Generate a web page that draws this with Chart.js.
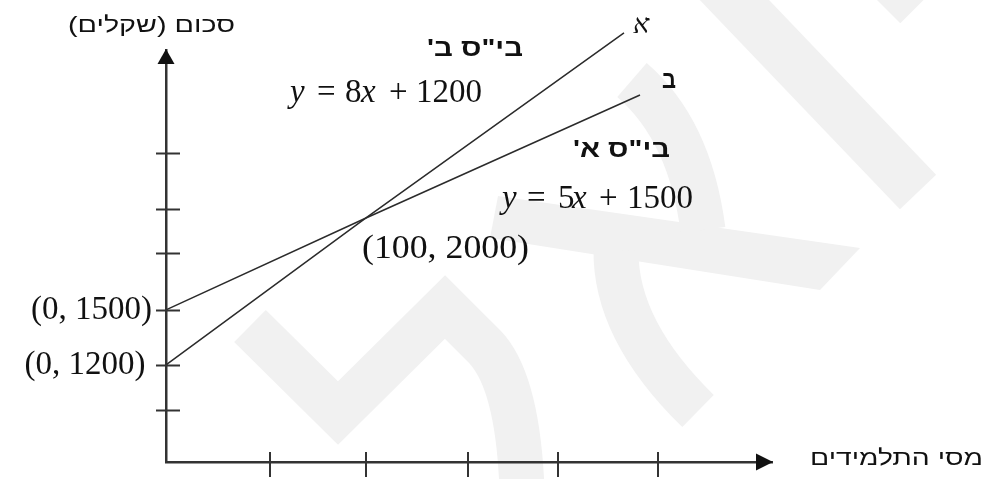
<!DOCTYPE html>
<html lang="he">
<head>
<meta charset="utf-8">
<script src="https://cdn.jsdelivr.net/npm/chart.js@4/dist/chart.umd.min.js"></script>
<style>
  html, body { margin: 0; padding: 0; background: #ffffff; }
  #wrap { position: relative; width: 995px; height: 479px; }
</style>
</head>
<body>
<div id="wrap"><canvas id="chart"></canvas></div>
<script>
// school A: y = 8x + 1200, school B: y = 5x + 1500
const schoolAX = [0, 100, 229];
const schoolAY = [1200, 2000, 3007];
const schoolBX = [0, 100, 237];
const schoolBY = [1500, 2000, 2669];

const xTickValues = [52, 100, 151, 196, 246];
const yTickValues = [955, 1200, 1500, 1810, 2050, 2355];
const yLabelValues = [1200, 1500];
const yLabelTexts = ["(0, 1200)\u2009", "(0, 1500)"];

const lineColour = "#2b2b2b";
const axisColour = "#333333";
const textColour = "#111111";
const watermarkColour = "#f1f1f1";
const serif = "'Liberation Serif', 'Times New Roman', serif";
const sans = "'Liberation Sans', 'DejaVu Sans', Arial, sans-serif";

const toPoints = (xs, ys) => xs.map((x, i) => ({ x: x, y: ys[i] }));

// faint logo in the background
const watermark = {
  id: "watermark",
  beforeDraw: (chart) => {
    const ctx = chart.ctx;
    ctx.save();
    ctx.fillStyle = "#ffffff";
    ctx.fillRect(0, 0, chart.width, chart.height);
    ctx.strokeStyle = watermarkColour;
    ctx.fillStyle = watermarkColour;
    ctx.lineCap = "butt";
    ctx.lineJoin = "miter";

    ctx.lineWidth = 45;
    ctx.beginPath();
    ctx.moveTo(250, 326);
    ctx.lineTo(338, 413);
    ctx.lineTo(445, 307);
    ctx.lineTo(485, 347);
    ctx.quadraticCurveTo(518, 382, 522, 490);
    ctx.stroke();

    ctx.lineWidth = 50;
    ctx.beginPath();
    ctx.moveTo(700, -36);
    ctx.lineTo(918, 192);
    ctx.stroke();

    ctx.lineWidth = 46;
    ctx.beginPath();
    ctx.moveTo(884, 7);
    ctx.lineTo(940, -49);
    ctx.stroke();

    ctx.beginPath();
    ctx.moveTo(498, 196);
    ctx.lineTo(860, 248);
    ctx.lineTo(820, 290);
    ctx.lineTo(490, 238);
    ctx.closePath();
    ctx.fill();

    ctx.lineWidth = 45;
    ctx.beginPath();
    ctx.moveTo(632, 80);
    ctx.quadraticCurveTo(690, 130, 703, 230);
    ctx.stroke();

    ctx.beginPath();
    ctx.moveTo(616, 250);
    ctx.quadraticCurveTo(615, 330, 698, 411);
    ctx.stroke();
    ctx.restore();
  },
};

const drawMath = (ctx, parts, left, baseline) => {
  parts.forEach(([text, offset, italic]) => {
    ctx.font = (italic ? "italic " : "") + "33px " + serif;
    ctx.fillText(text, left + offset, baseline);
  });
};

// text squeezed or stretched to the width it has in the picture
const drawFitted = (ctx, text, x, baseline, font, width, rtl) => {
  ctx.save();
  ctx.font = font;
  ctx.direction = rtl ? "rtl" : "ltr";
  ctx.textAlign = rtl ? "right" : "left";
  const natural = ctx.measureText(text).width;
  ctx.translate(x, baseline);
  ctx.scale(width / natural, 1);
  ctx.fillText(text, 0, 0);
  ctx.restore();
};

// cross ticks, arrow heads and all the labels
const decorations = {
  id: "decorations",
  afterDraw: (chart) => {
    const ctx = chart.ctx;
    const xs = chart.scales.x;
    const ys = chart.scales.y;
    const area = chart.chartArea;
    const left = area.left;
    const bottom = area.bottom;

    ctx.save();
    ctx.strokeStyle = axisColour;
    ctx.lineWidth = 2;
    ys.ticks.forEach((t) => {
      const p = Math.round(ys.getPixelForValue(t.value)) + 0.5;
      ctx.beginPath();
      ctx.moveTo(left - 10, p);
      ctx.lineTo(left + 14, p);
      ctx.stroke();
    });
    xs.ticks.forEach((t) => {
      const p = Math.round(xs.getPixelForValue(t.value));
      ctx.beginPath();
      ctx.moveTo(p, bottom - 10);
      ctx.lineTo(p, bottom + 15);
      ctx.stroke();
    });

    ctx.fillStyle = "#111111";
    ctx.beginPath();
    ctx.moveTo(left, area.top - 1);
    ctx.lineTo(left - 8.5, area.top + 14);
    ctx.lineTo(left + 8.5, area.top + 14);
    ctx.closePath();
    ctx.fill();
    ctx.beginPath();
    ctx.moveTo(area.right + 1, bottom);
    ctx.lineTo(area.right - 16, bottom - 8.5);
    ctx.lineTo(area.right - 16, bottom + 8.5);
    ctx.closePath();
    ctx.fill();

    ctx.fillStyle = textColour;
    ctx.textAlign = "left";
    ctx.textBaseline = "alphabetic";

    drawMath(ctx, [["y", 0, true], ["=", 27], ["8", 55], ["x", 71, true], ["+", 99], ["1200", 126]], 290, 102);
    drawMath(ctx, [["y", 0, true], ["=", 25], ["5", 56], ["x", 70, true], ["+", 97], ["1500", 125]], 502, 208);

    const cx = xs.getPixelForValue(100);
    const cy = ys.getPixelForValue(2000);
    drawFitted(ctx, "(100, 2000)", cx - 4, cy + 40, "33px " + serif, 167, false);

    const aEnd = schoolAX.length - 1;
    const bEnd = schoolBX.length - 1;
    ctx.font = "italic 27px " + serif;
    ctx.fillText("א", xs.getPixelForValue(schoolAX[aEnd]) + 9, ys.getPixelForValue(schoolAY[aEnd]));
    drawFitted(ctx, "ב", xs.getPixelForValue(schoolBX[bEnd]) + 36, ys.getPixelForValue(schoolBY[bEnd]) - 7, "bold 25px " + sans, 14, true);

    drawFitted(ctx, "בי\"ס ב'", 523, 56, "bold 24px " + sans, 96, true);
    drawFitted(ctx, "בי\"ס א'", 670, 157, "bold 24px " + sans, 97, true);
    drawFitted(ctx, "סכום (שקלים)", 235, 32, "22px " + sans, 167, true);
    drawFitted(ctx, "מסי התלמידים", 983, 465, "22px " + sans, 173, true);
    ctx.restore();
  },
};

const canvas = document.getElementById("chart");

new Chart(canvas, {
  type: "line",
  data: {
    datasets: [
      {
        label: "בי\"ס ב'",
        data: toPoints(schoolAX, schoolAY),
        borderColor: lineColour,
        borderWidth: 1.5,
        pointRadius: 0,
        tension: 0,
        clip: false,
      },
      {
        label: "בי\"ס א'",
        data: toPoints(schoolBX, schoolBY),
        borderColor: lineColour,
        borderWidth: 1.5,
        pointRadius: 0,
        tension: 0,
        clip: false,
      },
    ],
  },
  options: {
    responsive: true,
    maintainAspectRatio: false,
    animation: false,
    layout: { padding: { top: 50, right: 223, bottom: 0, left: 0 } },
    plugins: {
      legend: { display: false },
      tooltip: { enabled: false },
    },
    scales: {
      x: {
        type: "linear",
        min: 0,
        max: 303,
        afterBuildTicks: (scale) => {
          scale.ticks = xTickValues.map((v) => ({ value: v }));
        },
        afterFit: (scale) => {
          scale.height = 17;
          scale.paddingLeft = 0;
          scale.paddingRight = 0;
        },
        grid: { display: false, drawTicks: false },
        border: { display: true, color: axisColour, width: 2.5 },
        ticks: { display: false },
      },
      y: {
        type: "linear",
        min: 672,
        max: 2914,
        afterBuildTicks: (scale) => {
          scale.ticks = yTickValues.map((v) => ({ value: v }));
        },
        afterFit: (scale) => {
          scale.width = 166;
          scale.paddingTop = 0;
          scale.paddingBottom = 0;
        },
        grid: { display: false, drawTicks: false },
        border: { display: true, color: axisColour, width: 2.5 },
        ticks: {
          autoSkip: false,
          padding: 14,
          color: textColour,
          font: { family: serif, size: 33 },
          callback: (value) => {
            const i = yLabelValues.indexOf(value);
            return i >= 0 ? yLabelTexts[i] : "";
          },
        },
      },
    },
  },
  plugins: [watermark, decorations],
});
</script>
</body>
</html>
